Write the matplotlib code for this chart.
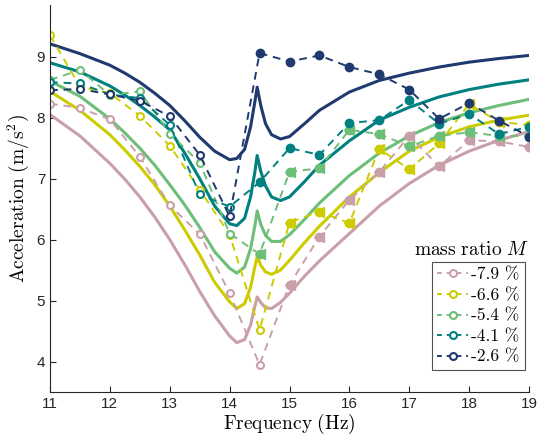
import matplotlib
matplotlib.use("Agg")
import matplotlib.pyplot as plt
from matplotlib.lines import Line2D

plt.rcParams['mathtext.fontset'] = 'cm'
plt.rcParams['font.family'] = ['Liberation Sans', 'DejaVu Sans']

# measured points (every 0.5 Hz)
freq = [11, 11.5, 12, 12.5, 13, 13.5, 14, 14.5, 15, 15.5, 16, 16.5, 17, 17.5, 18, 18.5, 19]
acc_pink = [8.23, 8.16, 7.97, 7.36, 6.56, 6.09, 5.12, 3.95, 5.26, 6.05, 6.65, 7.11, 7.70, 7.20, 7.63, 7.61, 7.52]
acc_yellow = [9.35, 8.51, 8.40, 8.03, 7.54, 6.82, 6.08, 4.52, 6.28, 6.46, 6.27, 7.49, 7.15, 7.58, 8.22, 7.93, 7.88]
acc_green = [8.62, 8.78, 8.37, 8.43, 7.74, 7.26, 6.10, 5.76, 7.11, 7.17, 7.80, 7.73, 7.53, 7.70, 7.76, 7.70, 7.70]
acc_teal = [8.58, 8.56, 8.38, 8.32, 7.88, 6.74, 6.54, 6.94, 7.50, 7.39, 7.91, 7.96, 8.29, 7.90, 8.06, 7.73, 7.85]
acc_navy = [8.45, 8.47, 8.38, 8.28, 8.02, 7.39, 6.38, 9.06, 8.92, 9.02, 8.83, 8.71, 8.46, 7.98, 8.24, 7.95, 7.69]
# index of first filled marker (sweep down part)
first_filled = [8, 8, 7, 7, 7]

# model curves
f_model = [11, 11.5, 12, 12.25, 12.5, 12.75, 13, 13.25, 13.5, 13.75, 14, 14.12, 14.25, 14.35,
           14.42, 14.46, 14.52, 14.6, 14.7, 14.85, 15, 15.25, 15.5, 16, 16.5, 17, 17.5, 18, 18.5, 19]
mod_pink = [8.05, 7.70, 7.25, 6.99, 6.70, 6.37, 6.00, 5.59, 5.15, 4.75, 4.42, 4.31, 4.36, 4.60,
            4.90, 5.06, 4.97, 4.88, 4.87, 4.97, 5.12, 5.40, 5.65, 6.10, 6.55, 6.92, 7.22, 7.45, 7.63, 7.77]
mod_yellow = [8.43, 8.12, 7.72, 7.47, 7.20, 6.90, 6.55, 6.16, 5.75, 5.30, 4.98, 4.87, 4.95, 5.22,
              5.55, 5.72, 5.58, 5.47, 5.43, 5.50, 5.66, 5.95, 6.22, 6.70, 7.10, 7.45, 7.68, 7.85, 7.96, 8.04]
mod_green = [8.60, 8.35, 7.98, 7.75, 7.50, 7.22, 6.90, 6.57, 6.20, 5.80, 5.53, 5.45, 5.55, 5.85,
             6.22, 6.47, 6.25, 6.07, 5.97, 5.97, 6.08, 6.33, 6.60, 7.05, 7.42, 7.70, 7.92, 8.08, 8.20, 8.30]
mod_teal = [8.90, 8.75, 8.52, 8.37, 8.20, 8.01, 7.80, 7.42, 7.00, 6.55, 6.26, 6.23, 6.35, 6.70,
            7.10, 7.38, 7.12, 6.88, 6.70, 6.64, 6.70, 6.95, 7.22, 7.62, 7.96, 8.17, 8.34, 8.46, 8.55, 8.62]
mod_navy = [9.21, 9.05, 8.86, 8.73, 8.58, 8.40, 8.20, 7.95, 7.68, 7.45, 7.31, 7.33, 7.48, 7.85,
            8.25, 8.50, 8.20, 7.90, 7.72, 7.65, 7.69, 7.90, 8.12, 8.42, 8.61, 8.73, 8.83, 8.91, 8.97, 9.02]

labels = ['-7.9 %', '-6.6 %', '-5.4 %', '-4.1 %', '-2.6 %']
colors = ['#c9a0a9', '#cccc00', '#6dbf78', '#008080', '#1f3a6e']
acc = [acc_pink, acc_yellow, acc_green, acc_teal, acc_navy]
models = [mod_pink, mod_yellow, mod_green, mod_teal, mod_navy]

fig = plt.figure(figsize=(5.41, 4.40), dpi=100)
ax = fig.add_axes([50 / 541, 0.109, 479 / 541, 0.88])

for m, c in zip(models, colors):
    ax.plot(f_model, m, '-', color=c, lw=2.2)

handles = []
for i in range(5):
    c = colors[i]
    y = acc[i]
    k = first_filled[i]
    ax.plot(freq, y, '--', color=c, lw=1.4, dashes=(4, 3))
    ax.plot(freq[:k], y[:k], 'o', ms=5, mfc='white', mec=c, mew=1.5, ls='none')
    ax.plot(freq[k:], y[k:], 'o', ms=6, mfc=c, mec=c, ls='none')
    if i < 3:
        ax.plot(freq[k:], y[k:], '<', ms=7, mfc=c, mec=c, ls='none')
    handles.append(Line2D([], [], color=c, ls='--', dashes=(2.5, 2.5), lw=1.4, marker='o',
                          ms=5, mfc='white', mec=c, mew=1.5))

ax.set_xlim(11, 19)
ax.set_ylim(3.5, 9.85)
ax.set_xticks(range(11, 20))
ax.set_yticks([4, 5, 6, 7, 8, 9])
ax.spines['top'].set_visible(False)
ax.spines['right'].set_visible(False)
for s in ['left', 'bottom']:
    ax.spines[s].set_color('#262626')
    ax.spines[s].set_linewidth(0.8)
ax.tick_params(direction='in', length=4, labelsize=11, colors='#262626', width=0.8)
ax.set_xlabel(r'$\mathrm{Frequency\ (Hz)}$', fontsize=14, labelpad=1)
ax.set_ylabel(r'$\mathrm{Acceleration\ (m/s^2)}$', fontsize=14, labelpad=4)

leg = ax.legend(handles, labels, loc='upper left', bbox_to_anchor=(432 / 541, 1 - 262 / 440),
                bbox_transform=fig.transFigure, prop={'family': 'cmr10', 'size': 12.5},
                frameon=True, fancybox=False, edgecolor='#262626', handlelength=1.8,
                handletextpad=0.15, borderpad=0.3, labelspacing=0.3, borderaxespad=0)
leg.get_frame().set_linewidth(0.8)
fig.text(471 / 541, 1 - 250 / 440, r'$\mathrm{mass\ ratio}\ M$', fontsize=14,
         ha='center', va='center')

fig.savefig('out.png', dpi=100)
